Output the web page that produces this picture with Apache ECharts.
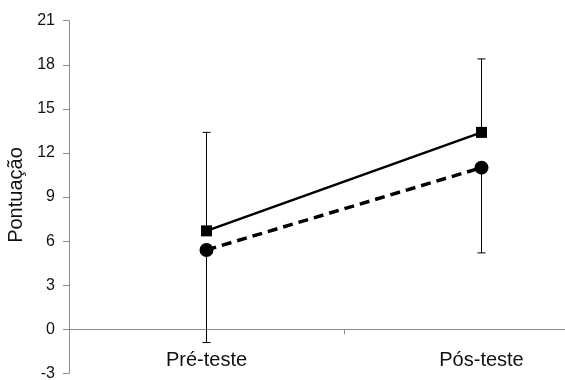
<!DOCTYPE html>
<html>
<head>
<meta charset="utf-8">
<script src="https://cdn.jsdelivr.net/npm/echarts@6/dist/echarts.min.js"></script>
<style>
  html, body { margin: 0; padding: 0; background: #fff; }
  #chart { width: 565px; height: 380px; }
</style>
</head>
<body>
<div id="chart"></div>
<script>
// Score means per assessment phase, with one-sided standard deviation bars
const categories = ['Pré-teste', 'Pós-teste'];
const squareMean = [6.7, 13.4];
const squareErrUp = [6.7, 5.0];
const circleMean = [5.4, 11.0];
const circleErrDown = [6.3, 5.8];
const yTicks = { min: -3, max: 21, step: 3 };

const chart = echarts.init(document.getElementById('chart'));

// Builds [categoryIndex, low, high] triples for the error bar renderer
function barData(mean, err, up) {
  return mean.map((m, i) => up ? [i, m, m + err[i]] : [i, m - err[i], m]);
}

function renderErrorBar(params, api) {
  const x = api.value(0);
  const lo = api.coord([x, api.value(1)]);
  const hi = api.coord([x, api.value(2)]);
  const cap = 4;
  const style = { stroke: '#000', lineWidth: 1 };
  return {
    type: 'group',
    children: [
      { type: 'line', shape: { x1: lo[0], y1: lo[1], x2: hi[0], y2: hi[1] }, style },
      { type: 'line', shape: { x1: hi[0] - cap, y1: hi[1], x2: hi[0] + cap, y2: hi[1] }, style },
      { type: 'line', shape: { x1: lo[0] - cap, y1: lo[1], x2: lo[0] + cap, y2: lo[1] }, style }
    ]
  };
}

const axisGrey = '#8c8c8c';

chart.setOption({
  animation: false,
  backgroundColor: '#fff',
  grid: {
    left: 69, right: -54, top: 20.7, bottom: 6.6,
    containLabel: false,
    outerBoundsMode: 'none'
  },
  xAxis: {
    type: 'category',
    data: categories,
    boundaryGap: true,
    axisLine: { onZero: true, lineStyle: { color: axisGrey, width: 1 } },
    axisTick: { show: true, length: 5, alignWithLabel: false, lineStyle: { color: axisGrey } },
    // category names sit just under the zero line
    axisLabel: { margin: -23, fontSize: 20, color: '#111', fontFamily: 'Liberation Sans, Arial, sans-serif' },
    splitLine: { show: false }
  },
  yAxis: {
    type: 'value',
    min: yTicks.min,
    max: yTicks.max,
    interval: yTicks.step,
    name: 'Pontuação',
    nameLocation: 'middle',
    nameGap: 43,
    nameTextStyle: { fontSize: 20, color: '#111', padding: [0, 0, 0, 4], fontFamily: 'Liberation Sans, Arial, sans-serif' },
    axisLine: { show: true, lineStyle: { color: axisGrey, width: 1 } },
    axisTick: { show: true, length: 6, lineStyle: { color: axisGrey } },
    axisLabel: { margin: 14, fontSize: 16, color: '#111', fontFamily: 'Liberation Sans, Arial, sans-serif' },
    splitLine: { show: false }
  },
  series: [
    {
      type: 'custom',
      renderItem: renderErrorBar,
      data: barData(squareMean, squareErrUp, true),
      encode: { x: 0, y: [1, 2] },
      z: 1
    },
    {
      type: 'custom',
      renderItem: renderErrorBar,
      data: barData(circleMean, circleErrDown, false),
      encode: { x: 0, y: [1, 2] },
      z: 1
    },
    {
      type: 'line',
      data: squareMean,
      symbol: 'rect',
      symbolSize: 11,
      itemStyle: { color: '#000' },
      lineStyle: { color: '#000', width: 2.5 },
      z: 3
    },
    {
      type: 'line',
      data: circleMean,
      symbol: 'circle',
      symbolSize: 14,
      itemStyle: { color: '#000' },
      lineStyle: { color: '#000', width: 3.5, type: [10, 6] },
      z: 3
    }
  ]
});
</script>
</body>
</html>
